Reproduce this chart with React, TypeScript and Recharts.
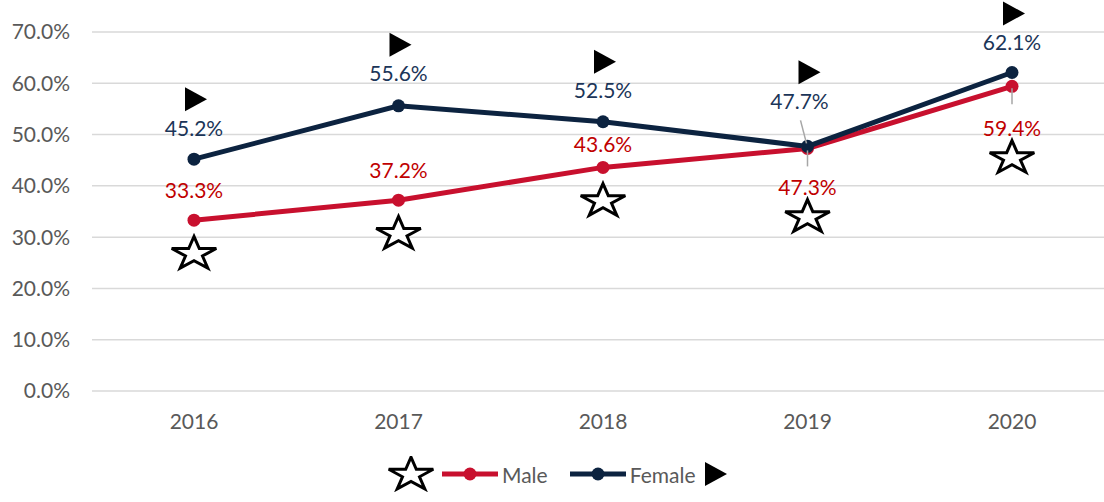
import { LineChart, Line, XAxis, YAxis, CartesianGrid, LabelList } from 'recharts';

const years = ['2016', '2017', '2018', '2019', '2020'];
const maleRates = [33.3, 37.2, 43.6, 47.3, 59.4];
const femaleRates = [45.2, 55.6, 52.5, 47.7, 62.1];
const yTicks = [0, 10, 20, 30, 40, 50, 60, 70];

const data = years.map((year, i) => ({ year, male: maleRates[i], female: femaleRates[i] }));

const RED = '#C8102E';
const RED_TEXT = '#C00000';
const NAVY = '#0C2340';
const NAVY_TEXT = '#1B3558';
const GREY = '#595959';
const FONT = 'Lato, "Open Sans", sans-serif';
const FS = 21;

// label placement per point (offset of label centre from the point)
const maleLabelDy = [-31, -31, -24, 38, 41];
const femaleLabelDy = [-32, -33, -32, -46, -31];

function starPath(cx: number, cy: number, rx: number, ry: number) {
  const pts: string[] = [];
  for (let k = 0; k < 10; k++) {
    const a = (-90 + k * 36) * Math.PI / 180;
    const r = k % 2 === 0 ? 1 : 0.382;
    pts.push(`${(cx + rx * r * Math.cos(a)).toFixed(1)},${(cy + ry * r * Math.sin(a)).toFixed(1)}`);
  }
  return `M${pts.join('L')}Z`;
}

function Star({ cx, cy }: { cx: number; cy: number }) {
  // cy is the centre of the bounding box
  return <path d={starPath(cx, cy + 1.7, 23.5, 17.5)} fill="#fff" stroke="#000" strokeWidth={3} strokeLinejoin="miter" />;
}

function Tri({ cx, cy }: { cx: number; cy: number }) {
  return <path d={`M${cx - 9},${cy - 12} L${cx + 13},${cy} L${cx - 9},${cy + 12} Z`} fill="#000" />;
}

function MaleLabel(props: any) {
  const { x, y, index, value } = props;
  const dy = maleLabelDy[index];
  const below = dy > 0;
  const ly = y + dy;
  return (
    <g>
      {below && <line x1={x} y1={y + 2} x2={x} y2={y + 18} stroke="#A6A6A6" strokeWidth={1.5} />}
      <text x={x} y={ly} textAnchor="middle" dominantBaseline="central" fill={RED_TEXT} fontSize={FS} fontFamily={FONT}>
        {`${value.toFixed(1)}%`}
      </text>
      <Star cx={x} cy={below ? ly + 29 : y + 32} />
    </g>
  );
}

function FemaleLabel(props: any) {
  const { x, y, index, value } = props;
  const dy = femaleLabelDy[index];
  const ly = y + dy;
  const lead = dy < -40;
  return (
    <g>
      {lead && <line x1={x - 7} y1={y - 26} x2={x - 1} y2={y - 3} stroke="#A6A6A6" strokeWidth={1.5} />}
      <text x={lead ? x - 8 : x} y={ly} textAnchor="middle" dominantBaseline="central" fill={NAVY_TEXT} fontSize={FS} fontFamily={FONT}>
        {`${value.toFixed(1)}%`}
      </text>
      <Tri cx={x} cy={ly - 28} />
    </g>
  );
}

function LegendRow() {
  return (
    <div style={{ position: 'absolute', left: 386, top: 456, display: 'flex', alignItems: 'center', fontFamily: FONT, fontSize: FS, color: GREY }}>
      <svg width={50} height={36}><Star cx={25} cy={17} /></svg>
      <svg width={60} height={20} style={{ marginLeft: 4 }}>
        <line x1={2} y1={10} x2={58} y2={10} stroke={RED} strokeWidth={5} />
        <circle cx={30} cy={10} r={6.5} fill={RED} />
      </svg>
      <span style={{ marginLeft: 2 }}>Male</span>
      <svg width={60} height={20} style={{ marginLeft: 20 }}>
        <line x1={2} y1={10} x2={58} y2={10} stroke={NAVY} strokeWidth={5} />
        <circle cx={30} cy={10} r={6.5} fill={NAVY} />
      </svg>
      <span style={{ marginLeft: 2 }}>Female</span>
      <svg width={28} height={30} style={{ marginLeft: 8 }}><Tri cx={11} cy={15} /></svg>
    </div>
  );
}

export default function App() {
  return (
    <div style={{ position: 'absolute', left: 0, top: 0, width: 1104, height: 502, overflow: 'hidden', background: '#fff' }}>
      <LineChart width={1130} height={502} data={data} margin={{ top: 32, right: 16, bottom: 81, left: 0 }}>
        <CartesianGrid vertical={false} stroke="#D9D9D9" strokeWidth={1.5} />
        <XAxis
          dataKey="year"
          axisLine={false}
          tickLine={false}
          padding={{ left: 102, right: 102 }}
          tickMargin={17}
          tick={{ fill: GREY, fontSize: FS, fontFamily: FONT }}
        />
        <YAxis
          width={92}
          domain={[0, 70]}
          ticks={yTicks}
          axisLine={false}
          tickLine={false}
          tickMargin={16}
          tickFormatter={(v: number) => `${v.toFixed(1)}%`}
          tick={{ fill: GREY, fontSize: FS, fontFamily: FONT }}
        />
        <Line dataKey="male" stroke={RED} strokeWidth={5} dot={{ r: 6.5, fill: RED, stroke: RED, strokeWidth: 0 }} isAnimationActive={false}>
          <LabelList dataKey="male" content={MaleLabel} />
        </Line>
        <Line dataKey="female" stroke={NAVY} strokeWidth={5} dot={{ r: 6.5, fill: NAVY, stroke: NAVY, strokeWidth: 0 }} isAnimationActive={false}>
          <LabelList dataKey="female" content={FemaleLabel} />
        </Line>
      </LineChart>
      <LegendRow />
    </div>
  );
}
